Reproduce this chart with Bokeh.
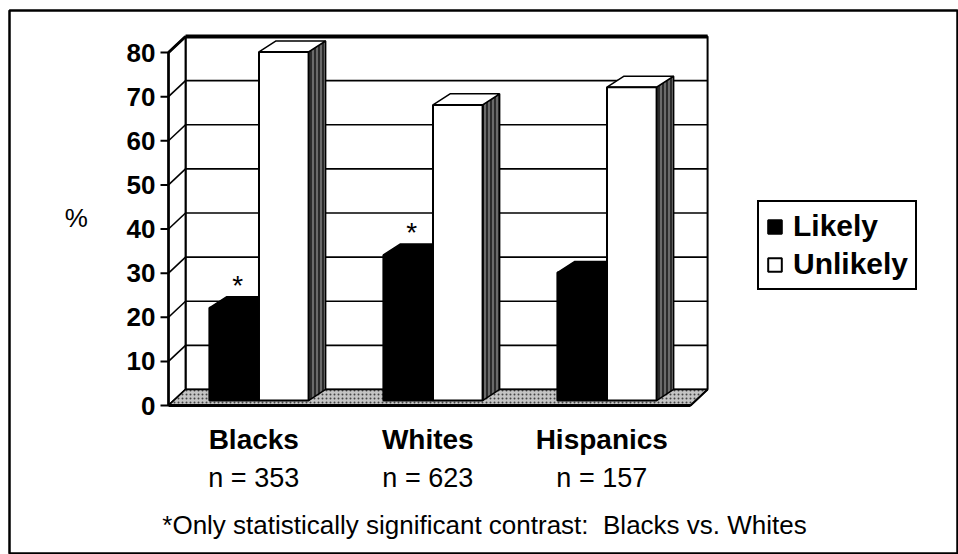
from bokeh.plotting import figure
from bokeh.models import (ColumnDataSource, Legend, LegendItem, Label, LabelSet, Range1d)
from bokeh.core.properties import value
from bokeh.embed import file_html
from bokeh.resources import INLINE

# ---------------- data ----------------
groups = ["Blacks", "Whites", "Hispanics"]
n_labels = ["n = 353", "n = 623", "n = 157"]
likely = [21, 33, 29]
unlikely = [79, 67, 71]
significant = [True, True, False]
y_ticks = [0, 10, 20, 30, 40, 50, 60, 70, 80]
series_names = ["Likely", "Unlikely"]
footnote = "*Only statistically significant contrast:\u00a0 Blacks vs. Whites"

# ---------------- style / geometry ----------------
FONT = "Liberation Sans"
DX, DY = 0.098, 3.63      # depth of the back wall (data units)
OX, OY = 0.02, 1.13       # bar plane offset from the front plane
BX, BY = 0.098, 2.5       # bar depth
W = 0.285                 # bar width
YMAX = y_ticks[-1]
NG = len(groups)

# the frame is the chart's outer box; the 3-D axis is drawn inside it
p = figure(width=958, height=554, output_backend="svg", toolbar_location=None,
           x_range=Range1d(-0.9138, 4.540), y_range=Range1d(-33.54, 89.52),
           x_axis_location=None, y_axis_location=None,
           min_border_left=9, min_border_right=0, min_border_top=10, min_border_bottom=1)
p.grid.visible = False
p.outline_line_color = "black"
p.outline_line_width = 2.5
p.background_fill_color = "white"
p.border_fill_color = "white"

# back wall
p.patch([DX, NG + DX, NG + DX, DX], [DY, DY, YMAX + DY, YMAX + DY],
        fill_color="white", line_color="black", line_width=2)
p.segment(x0=[DX] * (len(y_ticks) - 2), x1=[NG + DX] * (len(y_ticks) - 2),
          y0=[t + DY for t in y_ticks[1:-1]], y1=[t + DY for t in y_ticks[1:-1]],
          line_color="black", line_width=1.6)
p.line([DX, NG + DX], [YMAX + DY, YMAX + DY], line_color="black", line_width=4)

# left side wall
p.patch([0, DX, DX, 0], [0, DY, YMAX + DY, YMAX], fill_color="white",
        line_color="black", line_width=2)
p.segment(x0=[0] * len(y_ticks), x1=[DX] * len(y_ticks), y0=y_ticks,
          y1=[t + DY for t in y_ticks], line_color="black", line_width=1.6)
p.line([0, DX], [YMAX, YMAX + DY], line_color="black", line_width=3)

# floor
p.patch([0, NG, NG + DX, DX], [0, 0, DY, DY], fill_color="#c4c4c4",
        line_color="black", line_width=1.5, hatch_pattern=".", hatch_color="#444444",
        hatch_scale=4, hatch_weight=1)
p.line([0, NG], [0, 0], line_color="black", line_width=3)

# value axis (front edge): line, ticks, tick labels
TICK = 8 / 174
p.line([0, 0], [0, YMAX], line_color="black", line_width=2.5)
p.segment(x0=[-TICK] * len(y_ticks), x1=[0] * len(y_ticks), y0=y_ticks, y1=y_ticks,
          line_color="black", line_width=2)
p.text(x=[-TICK - 5 / 174] * len(y_ticks), y=y_ticks, text=[str(t) for t in y_ticks],
       text_font=value(FONT), text_font_style="bold", text_font_size="26px",
       text_align="right", text_baseline="middle", text_color="black")


def faces(vals, x0s):
    x1s = [x + W for x in x0s]
    tops = [OY + v for v in vals]
    side_xs = [[a, a + BX, a + BX, a] for a in x1s]
    side_ys = [[OY, OY + BY, t + BY, t] for t in tops]
    top_xs = [[a, b, b + BX, a + BX] for a, b in zip(x0s, x1s)]
    top_ys = [[t, t, t + BY, t + BY] for t in tops]
    return x1s, tops, side_xs, side_ys, top_xs, top_ys


centers = [i + 0.5 + OX for i in range(NG)]
lx0 = [c - W for c in centers]
ux0 = centers

renderers = []
for vals, x0s, fill in [(likely, lx0, "black"), (unlikely, ux0, "white")]:
    x1s, tops, sxs, sys_, txs, tys = faces(vals, x0s)
    p.patches(sxs, sys_, fill_color="#6a6a6a", line_color="black", line_width=1.5,
              hatch_pattern="|", hatch_color="black", hatch_scale=4, hatch_weight=1.2)
    p.patches(txs, tys, fill_color=fill, line_color="black", line_width=1.5)
    r = p.quad(left=x0s, right=x1s, bottom=[OY] * NG, top=tops, fill_color=fill,
               line_color="black", line_width=2)
    renderers.append(r)

# right edge of the floor
p.line([NG, NG + DX], [0, DY], line_color="black", line_width=2)

# significance asterisks
sx = [lx0[i] + W / 2 + 0.02 for i in range(NG) if significant[i]]
sy = [OY + likely[i] + BY + 2.6 for i in range(NG) if significant[i]]
p.text(x=sx, y=sy, text=["*"] * len(sx), text_font=value(FONT), text_font_size="28px",
       text_align="center", text_baseline="middle", text_color="black")

# category labels
src = ColumnDataSource(dict(x=[i + 0.49 for i in range(NG)], g=groups, n=n_labels,
                            yg=[-7.6] * NG, yn=[-16.4] * NG))
p.add_layout(LabelSet(x="x", y="yg", text="g", source=src, text_font=value(FONT),
                      text_font_style="bold", text_font_size="28px",
                      text_align="center", text_baseline="middle", text_color="black"))
p.add_layout(LabelSet(x="x", y="yn", text="n", source=src, text_font=value(FONT),
                      text_font_size="27px", text_align="center",
                      text_baseline="middle", text_color="black"))

# axis unit label
p.add_layout(Label(x=-0.53, y=42.4, text="%", text_font=FONT, text_font_size="26px",
                   text_align="center", text_baseline="middle", text_color="black"))

# footnote
p.add_layout(Label(x=1.816, y=-27.0, text=footnote, text_font=FONT,
                   text_font_size="26px", text_align="center", text_baseline="middle",
                   text_color="black"))

# legend
legend = Legend(items=[LegendItem(label=series_names[0], renderers=[renderers[0]]),
                       LegendItem(label=series_names[1], renderers=[renderers[1]])],
                location=(748, 263), label_text_font=FONT, label_text_font_style="bold",
                label_text_font_size="30px", label_text_color="black",
                glyph_width=17, glyph_height=17, spacing=4, padding=7, margin=0,
                border_line_color="black", border_line_alpha=1.0,
                border_line_width=2, label_standoff=10)
p.add_layout(legend)

open("out.html", "w").write(file_html(p, INLINE))
